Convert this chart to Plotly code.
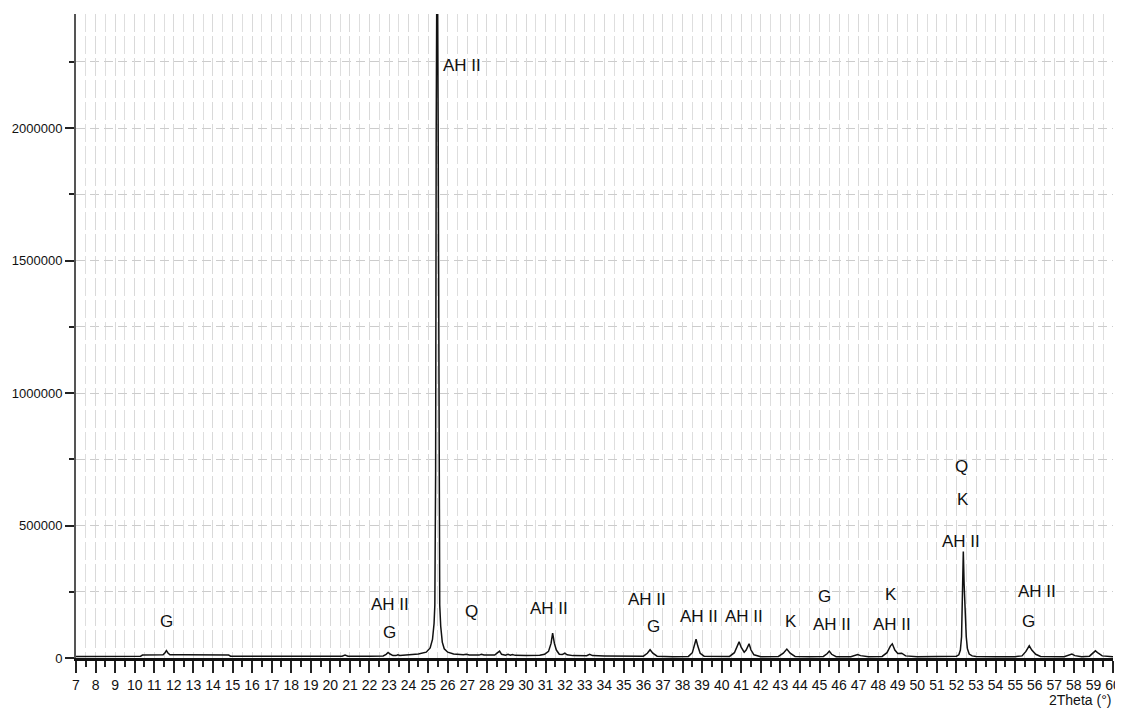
import plotly.graph_objects as go

# ---- data ----
two_theta = [
    7.0, 8.0, 9.0, 10.0, 10.3, 10.4, 11.0, 11.45, 11.55, 11.62, 11.7, 11.8, 12.5, 13.5, 14.5, 14.8, 14.9,
    16.0, 18.0, 20.0, 20.6, 20.75, 20.9, 22.0, 22.7, 22.85, 22.95, 23.05, 23.2, 23.35, 23.45, 23.55,
    24.0, 24.5, 24.9, 25.1, 25.22, 25.30, 25.34, 25.38, 25.41, 25.46, 25.51, 25.55, 25.59, 25.64,
    25.72, 25.82, 26.0, 26.3, 26.8, 26.95, 27.1, 27.6, 27.72, 27.85, 28.4, 28.55, 28.65, 28.75,
    28.95, 29.08, 29.2, 29.3, 29.45, 30.0, 30.7, 30.95, 31.15, 31.28, 31.36, 31.45, 31.55, 31.7,
    31.85, 31.98, 32.1, 32.4, 33.1, 33.25, 33.4, 34.0, 35.0, 35.5, 36.0, 36.2, 36.34, 36.48, 36.7,
    37.5, 38.3, 38.5, 38.62, 38.69, 38.78, 38.9, 39.1, 39.8, 40.4, 40.65, 40.8, 40.89, 41.0, 41.15,
    41.25, 41.4, 41.5, 41.65, 42.0, 42.9, 43.15, 43.33, 43.5, 43.75, 44.5, 45.2, 45.4, 45.5, 45.62,
    45.85, 46.6, 46.85, 46.95, 47.1, 47.5, 48.2, 48.45, 48.62, 48.72, 48.85, 49.0, 49.2, 49.4, 50.0,
    50.8, 51.2, 51.5, 51.7, 52.0, 52.12, 52.2, 52.26, 52.3, 52.35, 52.39, 52.42, 52.46, 52.5, 52.56,
    52.65, 52.8, 53.0, 54.0, 55.0, 55.35, 55.55, 55.72, 55.85, 56.05, 56.3, 57.5, 57.75, 57.9, 58.05,
    58.4, 58.8, 59.0, 59.1, 59.25, 59.45, 60.0,
]
intensity = [
    6000, 6000, 6000, 6500, 7000, 11000, 11500, 12000, 20000, 28000, 19000, 12500, 12000, 12000, 11500, 11000, 7000,
    6500, 6500, 6500, 6800, 11000, 7000, 7000, 8000, 14000, 21000, 15000, 9000, 9000, 12000, 9500,
    11000, 15000, 22000, 38000, 70000, 130000, 200000, 700000, 2000000, 2900000, 2000000, 700000, 200000, 120000,
    60000, 35000, 22000, 15000, 12000, 14500, 11500, 11000, 14000, 11000, 11000, 20000, 26000, 14000,
    10500, 14000, 10500, 13000, 10000, 9500, 10000, 14000, 25000, 55000, 94000, 55000, 30000, 14000,
    13000, 18000, 12000, 9000, 8500, 14000, 9000, 8000, 7000, 6000, 7000, 18000, 31000, 18000, 7000,
    5000, 6000, 20000, 50000, 71000, 45000, 18000, 7000, 5000, 6000, 20000, 45000, 61000, 40000, 22000,
    30000, 53500, 30000, 12000, 5000, 6000, 18000, 33500, 18000, 6000, 5000, 6000, 17000, 26000, 14000,
    5000, 5000, 11000, 13000, 9000, 5000, 6000, 20000, 45000, 53500, 30000, 17000, 18000, 8000, 5000,
    5500, 7000, 8000, 6500, 7000, 12000, 30000, 80000, 200000, 402000, 280000, 200000, 180000, 80000, 35000,
    15000, 8000, 6000, 5000, 5000, 8000, 25000, 46000, 30000, 14000, 6000, 5000, 11000, 14700, 9000,
    5000, 7000, 22000, 27000, 18000, 8000, 5000,
]

# phase labels: text, x (2Theta), y (intensity)
label_text = ["AH II", "G", "AH II", "G", "Q", "AH II", "AH II", "G", "AH II", "AH II", "K",
              "G", "AH II", "K", "AH II", "Q", "K", "AH II", "AH II", "G"]
label_x = [26.73, 11.60, 23.05, 23.00, 27.19, 31.18, 36.16, 36.49, 38.85, 41.14, 43.54,
           45.23, 45.65, 48.63, 48.73, 52.27, 52.32, 52.25, 56.10, 55.70]
label_y = [2234800, 138500, 200800, 95100, 174300, 185700, 219600, 117700, 155500, 155500, 136600,
           230900, 125300, 238700, 125300, 722600, 597000, 439600, 250900, 137700]

x_ticks = list(range(7, 61))
y_ticks = [0, 500000, 1000000, 1500000, 2000000]

FONT = "Liberation Sans, Arial, sans-serif"

fig = go.Figure()
fig.add_trace(go.Scatter(
    x=two_theta, y=intensity, mode="lines",
    line=dict(color="#111111", width=1.5), hoverinfo="skip", showlegend=False,
))

for t, x, y in zip(label_text, label_x, label_y):
    fig.add_annotation(x=x, y=y, text=t, showarrow=False, xanchor="center", yanchor="middle",
                       font=dict(family=FONT, size=17, color="#111111"))

# the page body adds an 8px offset, so the figure is sized to fit the window
fig.update_layout(
    width=1115, height=708,
    margin=dict(l=68, r=10, t=6, b=58),
    paper_bgcolor="white", plot_bgcolor="white",
    font=dict(family=FONT, color="#111111"),
)

fig.update_xaxes(
    range=[7, 60], tickmode="array", tickvals=x_ticks, ticktext=[str(v) for v in x_ticks],
    tickangle=0, automargin=False,
    ticks="outside", ticklen=12, tickwidth=1.5, tickcolor="#222222",
    showline=True, linecolor="#111111", linewidth=2.5, mirror=False,
    showgrid=True, gridcolor="#d9d9d9", gridwidth=1, griddash="18px,4px",
    minor=dict(dtick=0.5, tick0=7, ticks="outside", ticklen=6, tickwidth=1.5, tickcolor="#222222",
               showgrid=True, gridcolor="#dedede", gridwidth=1, griddash="18px,4px"),
    tickfont=dict(family=FONT, size=14, color="#111111"),
    zeroline=False,
)
fig.update_yaxes(
    range=[0, 2431000], tickmode="array", tickvals=y_ticks, ticktext=[str(v) for v in y_ticks],
    automargin=False,
    ticks="outside", ticklen=9, tickwidth=2, tickcolor="#222222",
    showline=True, linecolor="#555555", linewidth=2,
    showgrid=True, gridcolor="#cccccc", gridwidth=1, griddash="9px,5px",
    minor=dict(dtick=250000, tick0=0, ticks="outside", ticklen=5, tickwidth=2, tickcolor="#222222",
               showgrid=True, gridcolor="#cccccc", gridwidth=1, griddash="9px,5px"),
    tickfont=dict(family=FONT, size=13, color="#111111"),
    zeroline=False,
)

fig.add_annotation(x=1, y=0, xref="paper", yref="paper", yshift=-42, xanchor="right", yanchor="middle",
                   text="2Theta (°)", showarrow=False, font=dict(family=FONT, size=14, color="#111111"))

fig.write_html("out.html")
